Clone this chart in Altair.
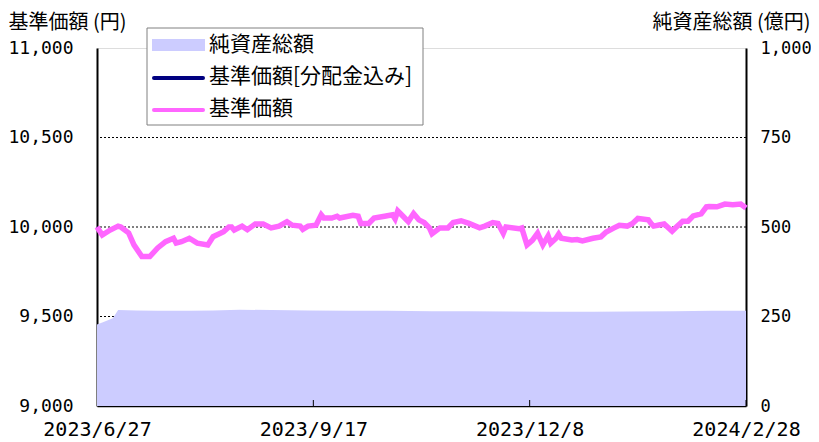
import altair as alt
import pandas as pd

# 基準価額 (円)
nav_dates = [
    "2023-06-27", "2023-06-29", "2023-07-02", "2023-07-05", "2023-07-06", "2023-07-09",
    "2023-07-11", "2023-07-14", "2023-07-17", "2023-07-20", "2023-07-23", "2023-07-26",
    "2023-07-27", "2023-07-29", "2023-08-01", "2023-08-04", "2023-08-08", "2023-08-10",
    "2023-08-14", "2023-08-16", "2023-08-17", "2023-08-18", "2023-08-21", "2023-08-23",
    "2023-08-26", "2023-08-29", "2023-09-01", "2023-09-04", "2023-09-07", "2023-09-09",
    "2023-09-12", "2023-09-13", "2023-09-15", "2023-09-18", "2023-09-20", "2023-09-21",
    "2023-09-24", "2023-09-26", "2023-09-27", "2023-10-02", "2023-10-04", "2023-10-05",
    "2023-10-08", "2023-10-10", "2023-10-14", "2023-10-17", "2023-10-18", "2023-10-19",
    "2023-10-21", "2023-10-23", "2023-10-25", "2023-10-27", "2023-10-29", "2023-10-31",
    "2023-11-01", "2023-11-04", "2023-11-07", "2023-11-09", "2023-11-12", "2023-11-15",
    "2023-11-19", "2023-11-21", "2023-11-24", "2023-11-26", "2023-11-28", "2023-11-29",
    "2023-12-04", "2023-12-05", "2023-12-07", "2023-12-09", "2023-12-11", "2023-12-13",
    "2023-12-15", "2023-12-16", "2023-12-18", "2023-12-19", "2023-12-20", "2023-12-24",
    "2023-12-26", "2023-12-28", "2024-01-01", "2024-01-04", "2024-01-06", "2024-01-09",
    "2024-01-11", "2024-01-14", "2024-01-16", "2024-01-18", "2024-01-22", "2024-01-23",
    "2024-01-24", "2024-01-26", "2024-01-28", "2024-01-31", "2024-02-02", "2024-02-04",
    "2024-02-06", "2024-02-08", "2024-02-11", "2024-02-13", "2024-02-14", "2024-02-17",
    "2024-02-20", "2024-02-23", "2024-02-26", "2024-02-28",
]
nav_values = [
    10000, 9955, 9983, 10005, 10000, 9967,
    9900, 9835, 9835, 9883, 9918, 9937,
    9910, 9918, 9937, 9910, 9900, 9946,
    9974, 10000, 10000, 9983, 10005, 9985,
    10017, 10017, 9995, 10005, 10030, 10010,
    10005, 9987, 10005, 10010, 10068, 10050,
    10050, 10060, 10050, 10065, 10060, 10020,
    10020, 10050, 10060, 10068, 10045, 10090,
    10060, 10030, 10075, 10040, 10025, 9995,
    9962, 9995, 9995, 10025, 10035, 10020,
    9995, 10005, 10025, 10020, 9965, 10000,
    9990, 9995, 9900, 9925, 9965, 9900,
    9950, 9910, 9937, 9960, 9937, 9928,
    9930, 9922, 9937, 9945, 9972, 9995,
    10010, 10005, 10020, 10048, 10040, 10020,
    10005, 10011, 10017, 9976, 10005, 10032,
    10032, 10062, 10073, 10113, 10115, 10113,
    10128, 10125, 10128, 10106,
]
# 基準価額[分配金込み] – no distributions in the period, so it coincides
nav_div_values = [
    10000, 9955, 9983, 10005, 10000, 9967,
    9900, 9835, 9835, 9883, 9918, 9937,
    9910, 9918, 9937, 9910, 9900, 9946,
    9974, 10000, 10000, 9983, 10005, 9985,
    10017, 10017, 9995, 10005, 10030, 10010,
    10005, 9987, 10005, 10010, 10068, 10050,
    10050, 10060, 10050, 10065, 10060, 10020,
    10020, 10050, 10060, 10068, 10045, 10090,
    10060, 10030, 10075, 10040, 10025, 9995,
    9962, 9995, 9995, 10025, 10035, 10020,
    9995, 10005, 10025, 10020, 9965, 10000,
    9990, 9995, 9900, 9925, 9965, 9900,
    9950, 9910, 9937, 9960, 9937, 9928,
    9930, 9922, 9937, 9945, 9972, 9995,
    10010, 10005, 10020, 10048, 10040, 10020,
    10005, 10011, 10017, 9976, 10005, 10032,
    10032, 10062, 10073, 10113, 10115, 10113,
    10128, 10125, 10128, 10106,
]

# 純資産総額 (億円)
aum_dates = [
    "2023-06-27", "2023-06-29", "2023-07-03", "2023-07-05", "2023-07-12", "2023-07-20",
    "2023-08-01", "2023-08-10", "2023-08-20", "2023-09-01", "2023-09-15", "2023-10-01",
    "2023-10-15", "2023-11-01", "2023-11-15", "2023-12-01", "2023-12-15", "2024-01-01",
    "2024-01-15", "2024-02-01", "2024-02-15", "2024-02-28",
]
aum_values = [
    228, 233, 245, 268, 267, 266,
    266, 267, 269, 268, 267, 266,
    266, 265, 265, 264, 263, 263,
    264, 265, 266, 266,
]

x_tick_dates = ["2023-06-27", "2023-09-17", "2023-12-08", "2024-02-28"]
nav_ticks = [9000, 9500, 10000, 10500, 11000]
nav_grid = [9500, 10000, 10500]
aum_ticks = [0, 250, 500, 750, 1000]
legend_labels = ["純資産総額", "基準価額[分配金込み]", "基準価額"]
colors = {"aum": "#CCCCFF", "navdiv": "#000080", "nav": "#FF66FF"}

FONT = "Noto Sans CJK JP"
NUMFONT = "DejaVu Sans Mono"
W, H = 649, 358

nav_df = pd.DataFrame({"date": pd.to_datetime(nav_dates), "nav": nav_values, "navdiv": nav_div_values})
aum_df = pd.DataFrame({"date": pd.to_datetime(aum_dates), "aum": aum_values})
tick_df = pd.DataFrame({"date": pd.to_datetime(x_tick_dates[1:])})
grid_df = pd.DataFrame({"v": nav_grid})


def dt(s):
    d = pd.Timestamp(s)
    return alt.DateTime(year=d.year, month=d.month, date=d.day)


x_scale = alt.Scale(domain=[dt(x_tick_dates[0]), dt(x_tick_dates[-1])])
x_axis = alt.Axis(
    values=[dt(s) for s in x_tick_dates], format="%Y/%-m/%-d", title=None,
    labelFont=NUMFONT, labelFontSize=20, labelColor="#000", labelPadding=13,
    ticks=False, grid=False, domainColor="#000", domainWidth=1.5, labelFlush=False,
    labelBaseline="top",
)
nav_scale = alt.Scale(domain=[9000, 11000], nice=False)
aum_scale = alt.Scale(domain=[0, 1000], nice=False)

grid = alt.Chart(grid_df).mark_rule(color="#000", strokeWidth=1, strokeDash=[2, 2]).encode(
    y=alt.Y("v:Q", scale=nav_scale, axis=None),
)

area = alt.Chart(aum_df).mark_area(color=colors["aum"], opacity=1, interpolate="linear").encode(
    x=alt.X("date:T", scale=x_scale, axis=x_axis),
    y=alt.Y("aum:Q", scale=aum_scale, axis=alt.Axis(
        orient="right", values=aum_ticks, format=",d",
        title="純資産総額 (億円)", titleAngle=0, titleAlign="right", titleBaseline="top",
        titleX=64, titleY=-36, titleFont=FONT, titleFontSize=20, titleFontWeight="normal",
        titleColor="#000",
        labelFont=NUMFONT, labelFontSize=17, labelColor="#000", labelPadding=14,
        ticks=False, grid=False, domainColor="#000", domainWidth=2,
    )),
)

navdiv_line = alt.Chart(nav_df).mark_line(color=colors["navdiv"], strokeWidth=3).encode(
    x=alt.X("date:T", scale=x_scale, axis=x_axis),
    y=alt.Y("navdiv:Q", scale=nav_scale, axis=alt.Axis(
        orient="left", values=nav_ticks, format=",d",
        title="基準価額 (円)", titleAngle=0, titleAlign="left", titleBaseline="top",
        titleX=-89, titleY=-36, titleFont=FONT, titleFontSize=20, titleFontWeight="normal",
        titleColor="#000",
        labelFont=NUMFONT, labelFontSize=18, labelColor="#000", labelPadding=24,
        ticks=False, grid=False, domainColor="#000", domainWidth=2,
    )),
)
nav_line = alt.Chart(nav_df).mark_line(color=colors["nav"], strokeWidth=5.5).encode(
    x=alt.X("date:T", scale=x_scale, axis=x_axis),
    y=alt.Y("nav:Q", scale=nav_scale, axis=None),
)

x_ticks = alt.Chart(tick_df).mark_rule(color="#000", strokeWidth=1).encode(
    x=alt.X("date:T", scale=x_scale, axis=x_axis),
    y=alt.value(H), y2=alt.value(H - 6),
)

# legend box
one = pd.DataFrame({"k": [0]})
box = alt.Chart(one).mark_rect(fill="white", stroke="#808080", strokeWidth=1).encode(
    x=alt.value(50), x2=alt.value(326), y=alt.value(-20), y2=alt.value(77))
sw_area = alt.Chart(one).mark_rect(fill=colors["aum"]).encode(
    x=alt.value(55), x2=alt.value(108), y=alt.value(-9), y2=alt.value(3))
sw_navdiv = alt.Chart(one).mark_rule(color=colors["navdiv"], strokeWidth=4, strokeCap="round").encode(
    x=alt.value(57), x2=alt.value(106), y=alt.value(30))
sw_nav = alt.Chart(one).mark_rule(color=colors["nav"], strokeWidth=4, strokeCap="round").encode(
    x=alt.value(57), x2=alt.value(106), y=alt.value(62))
legend_texts = []
for i, lab in enumerate(legend_labels):
    legend_texts.append(
        alt.Chart(pd.DataFrame({"t": [lab]})).mark_text(
            font=FONT, fontSize=21, color="#000", align="left", baseline="middle"
        ).encode(text="t:N", x=alt.value(112), y=alt.value(-3 + 32 * i))
    )

chart = alt.layer(
    grid, area, navdiv_line, nav_line, x_ticks, box, sw_area, sw_navdiv, sw_nav, *legend_texts
).resolve_scale(y="independent").properties(
    width=W, height=H,
    padding={"left": 89, "top": 40, "right": 65, "bottom": 34},
    autosize="none",
).configure_view(stroke=None).configure(background="white")

chart.save("out.html", embed_options={"renderer": "svg", "actions": False})
